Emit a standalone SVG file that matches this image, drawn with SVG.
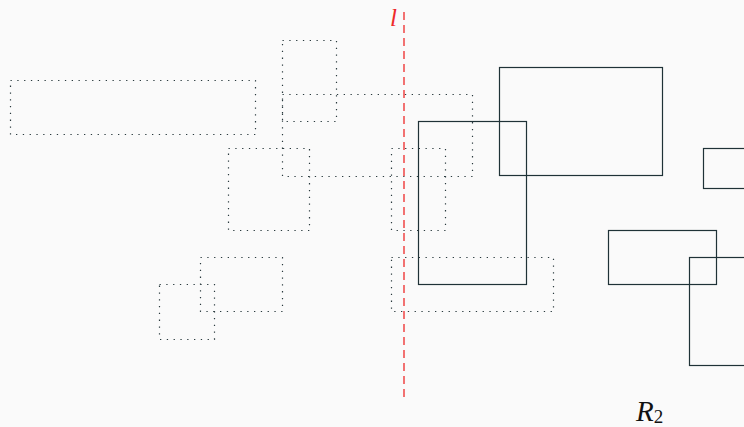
<svg xmlns="http://www.w3.org/2000/svg" width="744" height="427" viewBox="0 0 744 427">
<style>
.dot{fill:none;stroke:#2a3a3e;stroke-width:1.2;stroke-dasharray:1.3 5.5}
.sol{fill:none;stroke:#1f3237;stroke-width:1.2}
.lab{font-family:"Liberation Serif","DejaVu Serif",serif;font-style:italic}
</style>
<rect width="744" height="427" fill="#fafafa"/>
<g id="dotted">
<rect id="d1" class="dot" x="10.5" y="80.5" width="245" height="54"/>
<rect id="d2" class="dot" x="282.5" y="40.5" width="54" height="81"/>
<rect id="d3" class="dot" x="282.5" y="94.5" width="190" height="82"/>
<rect id="d4" class="dot" x="228.5" y="148.5" width="81" height="82"/>
<rect id="d5" class="dot" x="391.5" y="148.5" width="54" height="82"/>
<rect id="d6" class="dot" x="200.5" y="257.5" width="82" height="54"/>
<rect id="d7" class="dot" x="159.5" y="284.5" width="55" height="55"/>
<rect id="d8" class="dot" x="391.5" y="257.5" width="162" height="54"/>
</g>
<g id="solid">
<rect id="s1" class="sol" x="499.5" y="67.5" width="163" height="108"/>
<rect id="s2" class="sol" x="418.5" y="121.5" width="108" height="163"/>
<rect id="s3" class="sol" x="703.5" y="148.5" width="50" height="40"/>
<rect id="s4" class="sol" x="608.5" y="230.5" width="108" height="54"/>
<rect id="s5" class="sol" x="689.5" y="257.5" width="64" height="108"/>
</g>
<g id="connectors">
<line x1="404" y1="12" x2="404" y2="400" stroke="#ee2a2a" stroke-width="1.3" stroke-dasharray="8 5"/>
</g>
<text class="lab" x="390" y="26" font-size="25" fill="#ee2a2a">l</text>
<text class="lab" x="636" y="421" font-size="29" fill="#111">R<tspan font-size="19" dy="2" font-style="normal">2</tspan></text>
</svg>
